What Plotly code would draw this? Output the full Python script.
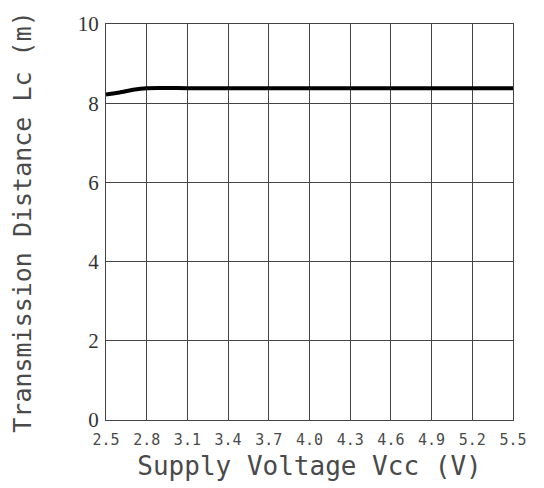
import plotly.graph_objects as go

# Data
voltage = [2.5, 2.6, 2.7, 2.8, 3.1, 3.4, 3.7, 4.0, 4.3, 4.6, 4.9, 5.2, 5.5]
distance = [8.22, 8.27, 8.34, 8.38, 8.38, 8.38, 8.38, 8.38, 8.38, 8.38, 8.38, 8.38, 8.38]
x_ticks = [2.5, 2.8, 3.1, 3.4, 3.7, 4.0, 4.3, 4.6, 4.9, 5.2, 5.5]
x_tick_text = ["2.5", "2.8", "3.1", "3.4", "3.7", "4.0", "4.3", "4.6", "4.9", "5.2", "5.5"]
y_ticks = [0, 2, 4, 6, 8, 10]
y_tick_text = ["0", "2", "4", "6", "8", "10"]

fig = go.Figure()
fig.add_trace(go.Scatter(
    x=voltage, y=distance, mode="lines",
    line=dict(color="black", width=4, shape="spline", smoothing=0.6),
    showlegend=False, hoverinfo="skip",
))

mono = "DejaVu Sans Mono"
txt = "#4a4a4a"
# page body has an 8px margin, so the figure is sized to fit 544x488 from (8,8)
fig.update_layout(
    width=536, height=480,
    margin=dict(l=98, r=31, t=16, b=68),
    paper_bgcolor="white", plot_bgcolor="white",
    xaxis=dict(
        range=[2.5, 5.5], tickvals=x_ticks, ticktext=x_tick_text,
        showgrid=True, gridcolor="#444444", gridwidth=1,
        showline=True, linecolor="#444444", linewidth=1, mirror=True,
        ticks="", zeroline=False, automargin=False,
        ticklabelstandoff=6,
        tickfont=dict(family=mono, size=15, color=txt),
        title=dict(text="Supply Voltage Vcc (V)", standoff=8,
                   font=dict(family=mono, size=26, color=txt)),
    ),
    yaxis=dict(
        range=[0, 10], tickvals=y_ticks, ticktext=y_tick_text,
        showgrid=True, gridcolor="#444444", gridwidth=1,
        showline=True, linecolor="#444444", linewidth=1, mirror=True,
        ticks="", zeroline=False, automargin=False,
        ticklabelstandoff=2,
        tickfont=dict(family="Liberation Serif", size=21, color="#333333"),
        title=dict(text="Transmission Distance Lc (m)", standoff=42,
                   font=dict(family=mono, size=25, color=txt)),
    ),
)

fig.write_html("out.html")
